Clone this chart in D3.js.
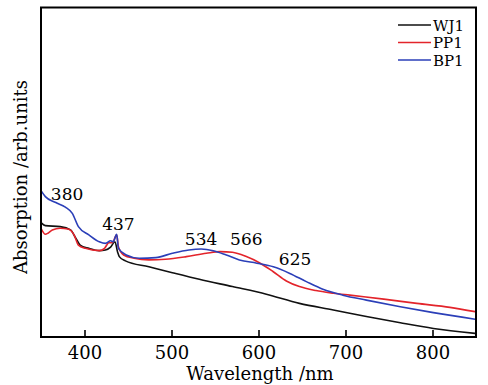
<!DOCTYPE html>
<html><head><meta charset="utf-8">
<script src="https://cdn.jsdelivr.net/npm/d3@7"></script>
<style>html,body{margin:0;padding:0;background:#fff;}svg{display:block;}</style>
</head><body>
<script>
// Data (absorption in arbitrary units, 0-100 scale)
const wj1X = [350,355,372,384,390,395,405,417,424,430,435,438,440,447,474,501,532,570,609,647,686,724,763,801,849];
const wj1Y = [34.7,33.8,33.5,32.5,30.0,27.9,26.9,26.2,26.4,27.3,28.9,25.8,24.4,23.1,21.3,19.5,17.5,15.3,13.0,10.2,8.2,6.2,4.3,2.6,1.1];
const pp1X = [350,355,358,363,372,381,388,393,401,417,423,428,432,437,439,445,457,474,493,517,540,556,570,586,602,617,632,647,666,686,705,744,782,820,849];
const pp1Y = [33.0,31.2,31.5,32.5,33.0,32.8,31.0,27.9,26.9,26.2,26.9,28.6,28.6,31.0,27.4,24.9,23.9,23.4,23.6,24.4,25.4,25.9,25.7,24.4,22.4,19.8,17.0,15.3,14.1,13.3,12.7,11.5,10.2,9.0,7.7];
const bp1X = [350,355,367,378,386,393,405,417,424,430,433,437,439,448,463,482,501,520,534,548,563,578,598,617,636,655,674,697,724,763,801,849];
const bp1Y = [44.4,42.6,40.8,39.4,37.5,33.5,31.0,28.9,28.4,29.2,28.9,31.2,26.9,24.9,23.9,24.1,25.4,26.4,26.7,26.2,24.9,23.4,22.4,21.3,19.3,16.8,14.5,12.7,11.2,9.2,7.4,5.4];
const seriesNames = ["WJ1","PP1","BP1"];
const seriesColors = ["#111111","#e3242b","#2b3fb8"];
const xTicks = [400,500,600,700,800];
const peakLabels = ["380","437","534","566","625"];
const peakX = [380,439,534,586,642];
const peakY = [41.6,32.5,27.9,27.9,21.9];

const W = 488, H = 385;
const m = {left:41, right:12, top:7.5, bottom:48};
const svg = d3.select("body").append("svg").attr("width",W).attr("height",H);
const x = d3.scaleLinear().domain([350,850]).range([m.left, W-m.right]);
const y = d3.scaleLinear().domain([0,100]).range([H-m.bottom, m.top]);
const font = "DejaVu Serif, Liberation Serif, serif";

const data = [[wj1X,wj1Y],[pp1X,pp1Y],[bp1X,bp1Y]].map(([xs,ys]) => xs.map((v,i)=>[v,ys[i]]));
const line = d3.line().x(d=>x(d[0])).y(d=>y(d[1])).curve(d3.curveMonotoneX);

svg.append("clipPath").attr("id","c").append("rect")
  .attr("x",m.left).attr("y",m.top).attr("width",W-m.left-m.right).attr("height",H-m.top-m.bottom);
const g = svg.append("g").attr("clip-path","url(#c)");
data.forEach((d,i)=>{
  g.append("path").attr("d",line(d)).attr("fill","none").attr("stroke",seriesColors[i]).attr("stroke-width",1.6);
});

// frame
svg.append("rect").attr("x",m.left).attr("y",m.top).attr("width",W-m.left-m.right).attr("height",H-m.top-m.bottom)
  .attr("fill","none").attr("stroke","#000").attr("stroke-width",2);

// bottom axis with inward ticks
const xa = svg.append("g").attr("transform",`translate(0,${H-m.bottom})`)
  .call(d3.axisBottom(x).tickValues(xTicks).tickSizeInner(-7).tickSizeOuter(0).tickPadding(9));
xa.attr("font-family",null);
xa.select(".domain").remove();
xa.selectAll(".tick line").attr("stroke","#000").attr("stroke-width",1.6);
xa.selectAll(".tick text").style("font-family",font).style("font-size","18px").attr("fill","#000");

svg.append("text").attr("x",260).attr("y",380).attr("text-anchor","middle")
  .style("font-family",font).style("font-size","18px").text("Wavelength /nm");
svg.append("text").attr("transform","translate(27,177) rotate(-90)").attr("text-anchor","middle")
  .style("font-family",font).style("font-size","18px").text("Absorption /arb.units");

// peak labels
peakLabels.forEach((t,i)=>{
  svg.append("text").attr("x",x(peakX[i])).attr("y",y(peakY[i])).attr("text-anchor","middle")
    .style("font-family",font).style("font-size","17px").text(t);
});

// legend
seriesNames.forEach((n,i)=>{
  const ly = 25 + i*17.5;
  svg.append("line").attr("x1",398).attr("x2",431).attr("y1",ly).attr("y2",ly)
    .attr("stroke",seriesColors[i]).attr("stroke-width",1.6);
  svg.append("text").attr("x",433).attr("y",ly+5.5).style("font-family",font).style("font-size","15px").text(n);
});
</script>
</body></html>
